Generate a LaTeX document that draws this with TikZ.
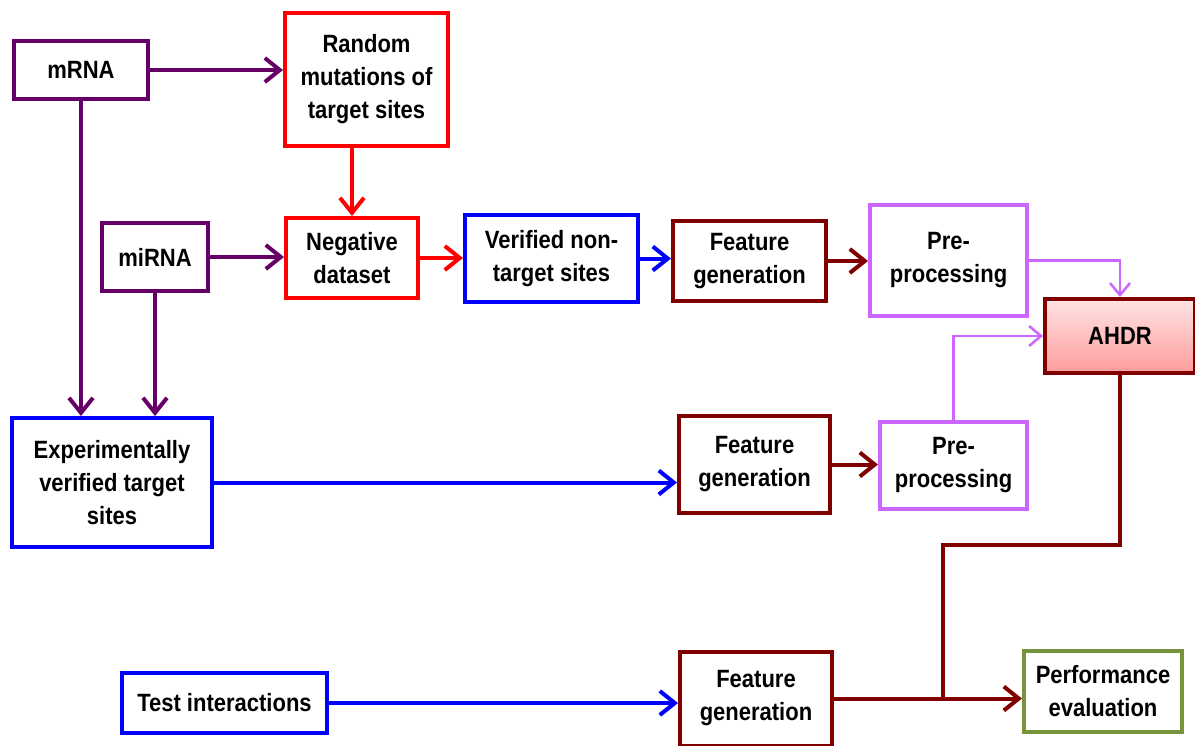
\documentclass[tikz,border=0pt]{standalone}
\usepackage{fontspec}
\setmainfont[FakeStretch=0.88]{Liberation Sans}
\usetikzlibrary{arrows.meta,shadows}

\definecolor{cPurple}{HTML}{660066}
\definecolor{cRed}{HTML}{FF0000}
\definecolor{cBlue}{HTML}{0000FF}
\definecolor{cMaroon}{HTML}{800000}
\definecolor{cLilac}{HTML}{CC66FF}
\definecolor{cGreen}{HTML}{77933C}
\definecolor{cPinkTop}{HTML}{FFE4E4}
\definecolor{cPinkBot}{HTML}{FF9C9C}

\tikzset{
  box/.style={draw, line width=4, fill=white, inner sep=0, align=center,
    font=\bfseries\fontsize{25}{33}\selectfont,
    drop shadow={opacity=0.25, shadow xshift=2, shadow yshift=-2}},
  conn/.style={line width=4, -{Straight Barb[length=15,width=24,line width=4]}},
  thin conn/.style={line width=2.5, -{Straight Barb[length=12,width=20,line width=2.5]}},
  plain/.style={line width=4}
}

\begin{document}
\begin{tikzpicture}[x=1pt,y=-1pt]
\useasboundingbox (0,0) rectangle (1195,745);

% boxes
\node[box, draw=cPurple, minimum width=134, minimum height=58] (mrna) at (81,70) {mRNA};
\node[box, draw=cRed, minimum width=163, minimum height=133] (rand) at (366.5,79.5) {Random\\mutations of\\target sites};
\node[box, draw=cPurple, minimum width=106, minimum height=68] (mirna) at (155,257) {miRNA};
\node[box, draw=cRed, minimum width=132, minimum height=80] (neg) at (352,258) {Negative\\dataset};
\node[box, draw=cBlue, minimum width=173, minimum height=87] (ver) at (551.5,258.5) {Verified non-\\target sites};
\node[box, draw=cMaroon, minimum width=153, minimum height=80] (fg1) at (749.5,261) {Feature\\generation};
\node[box, draw=cLilac, minimum width=157, minimum height=111] (pre1) at (948.5,260.5) {Pre-\\processing};
\node[box, draw=cMaroon, top color=cPinkTop, bottom color=cPinkBot, minimum width=150, minimum height=74] (ahdr) at (1120,336) {AHDR};
\node[box, draw=cBlue, minimum width=200, minimum height=129] (exp) at (112,482.5) {Experimentally\\verified target\\sites};
\node[box, draw=cMaroon, minimum width=151, minimum height=97] (fg2) at (754.5,464.5) {Feature\\generation};
\node[box, draw=cLilac, minimum width=147, minimum height=87] (pre2) at (953.5,465.5) {Pre-\\processing};
\node[box, draw=cBlue, minimum width=205, minimum height=60] (test) at (224.5,703) {Test interactions};
\node[box, draw=cMaroon, minimum width=152, minimum height=94] (fg3) at (756,698.5) {Feature\\generation};
\node[box, draw=cGreen, minimum width=158, minimum height=81] (perf) at (1103,691) {Performance\\evaluation};

% connectors
\draw[conn, cPurple] (mrna.east) -- (mrna.east -| rand.west);
\draw[conn, cPurple] (mrna.south) -- (mrna.south |- exp.north);
\draw[conn, cPurple] (mirna.south) -- (mirna.south |- exp.north);
\draw[conn, cPurple] (mirna.east) -- (mirna.east -| neg.west);
\draw[conn, cRed] (neg.north |- rand.south) -- (neg.north);
\draw[conn, cRed] (neg.east) -- (neg.east -| ver.west);
\draw[conn, cBlue] (ver.east) -- (ver.east -| fg1.west);
\draw[conn, cMaroon] (fg1.east) -- (fg1.east -| pre1.west);
\draw[thin conn, cLilac] (pre1.east) -| (ahdr.north);
\draw[thin conn, cLilac] (pre2.north) |- (ahdr.west);
\draw[conn, cBlue] (exp.east) -- (exp.east -| fg2.west);
\draw[conn, cMaroon] (fg2.east) -- (fg2.east -| pre2.west);
\draw[conn, cBlue] (test.east) -- (test.east -| fg3.west);
\draw[conn, cMaroon] (fg3.east) -- (fg3.east -| perf.west);
\coordinate (bend) at (943,545);
\draw[plain, cMaroon] (ahdr.south) |- (bend) -- (bend |- fg3.east);
\end{tikzpicture}
\end{document}
